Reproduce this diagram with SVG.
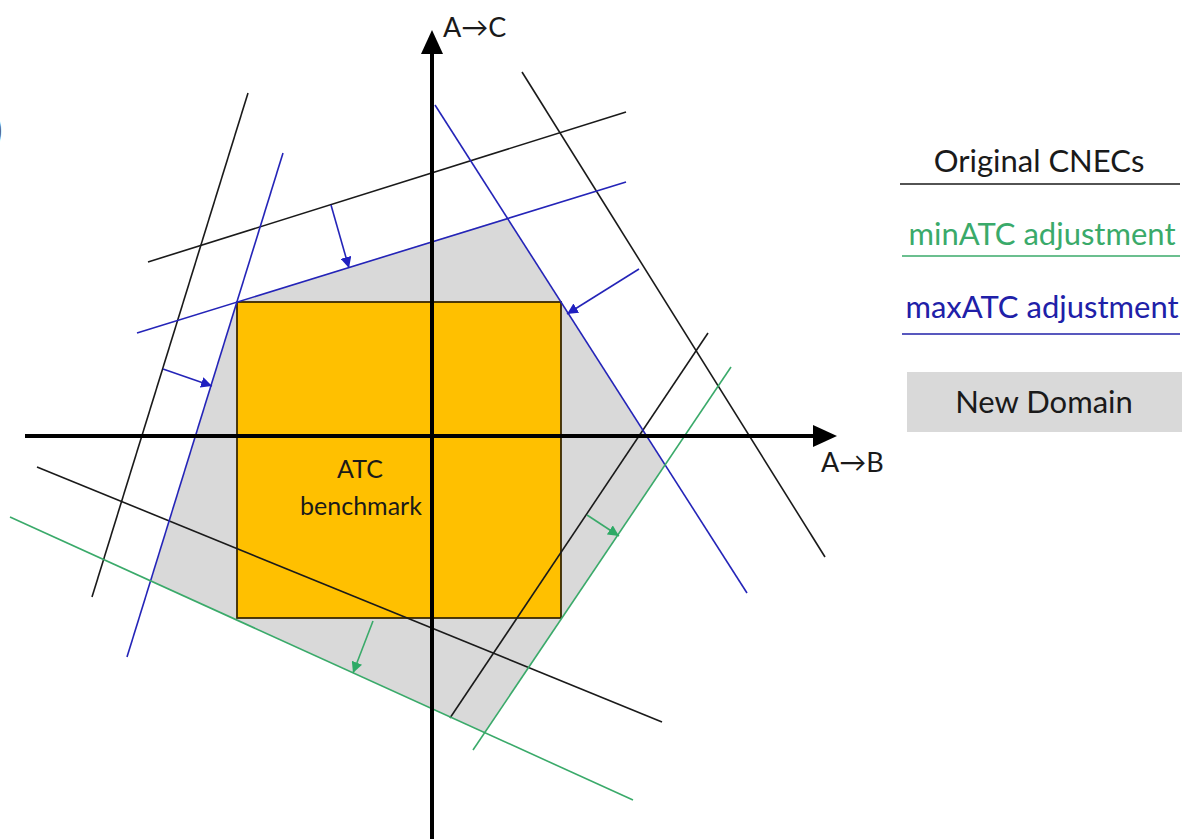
<svg xmlns="http://www.w3.org/2000/svg" width="1186" height="839" viewBox="0 0 1186 839">
<style>
.txt{font-family:Lato,"Liberation Sans",sans-serif;font-size:25px;fill:#1a1a1a}
.leg{font-size:31px}
.cnec{stroke:#1a1a1a;stroke-width:1.6;fill:none}
.max{stroke:#2424b8;stroke-width:1.6;fill:none}
.min{stroke:#3aaa6a;stroke-width:1.6;fill:none}
.axis{stroke:#000;stroke-width:4;fill:none}
</style>
<defs>
<marker id="ab" viewBox="0 0 10 10" refX="10" refY="5" markerWidth="11" markerHeight="11" markerUnits="userSpaceOnUse" orient="auto"><path d="M0,0 L10,5 L0,10 z" fill="#2020c0"/></marker>
<marker id="ag" viewBox="0 0 10 10" refX="10" refY="5" markerWidth="11" markerHeight="11" markerUnits="userSpaceOnUse" orient="auto"><path d="M0,0 L10,5 L0,10 z" fill="#2eaa66"/></marker>
</defs>
<rect width="1186" height="839" fill="#fff"/>
<text x="-8" y="144" style="font-family:Lato,sans-serif;font-size:40px;fill:#555">)</text>
<g id="domain"><polygon points="237,302 507,218 665,465 485,733 151,581" fill="#d9d9d9"/></g>
<g id="benchmark">
<rect x="237" y="302" width="324" height="316" fill="#ffc000" stroke="#3a2800" stroke-width="1.8"/>
<text class="txt" x="360" y="478" text-anchor="middle">ATC</text>
<text class="txt" x="361" y="515" text-anchor="middle">benchmark</text>
</g>
<g id="connectors">
<line class="cnec" x1="248" y1="93" x2="92" y2="597"/>
<line class="cnec" x1="148" y1="262" x2="626" y2="112"/>
<line class="cnec" x1="522" y1="72" x2="825" y2="557"/>
<line class="cnec" x1="37" y1="467" x2="662" y2="722"/>
<line class="cnec" x1="708" y1="333" x2="450" y2="718"/>
<line class="max" x1="283" y1="153" x2="127" y2="657"/>
<line class="max" x1="137" y1="333" x2="626" y2="182"/>
<line class="max" x1="435" y1="105" x2="747" y2="593"/>
<line class="min" x1="10" y1="517" x2="633" y2="800"/>
<line class="min" x1="731" y1="367" x2="473" y2="750"/>
<line class="max" x1="331" y1="205" x2="349" y2="268" marker-end="url(#ab)"/>
<line class="max" x1="163" y1="369" x2="212" y2="386" marker-end="url(#ab)"/>
<line class="max" x1="639" y1="269" x2="567" y2="314" marker-end="url(#ab)"/>
<line class="min" x1="373" y1="621" x2="353" y2="673" marker-end="url(#ag)"/>
<line class="min" x1="587" y1="515" x2="619" y2="536" marker-end="url(#ag)"/>
<line class="axis" x1="432" y1="50" x2="432" y2="839"/>
<line class="axis" x1="25" y1="436" x2="815" y2="436"/>
<polygon points="432,30 443,54 421,54" fill="#000"/>
<polygon points="837,436 813,425 813,447" fill="#000"/>
</g>
<g id="labels">
<text class="txt" x="443" y="37" style="font-size:27px">A→C</text>
<text class="txt" x="821" y="472" style="font-size:27px">A→B</text>
</g>
<g id="legend">
<text class="txt leg" x="1039" y="172" text-anchor="middle">Original CNECs</text>
<line x1="900" y1="184" x2="1180" y2="184" stroke="#1a1a1a" stroke-width="1.6"/>
<text class="txt leg" x="1042" y="245" text-anchor="middle" style="fill:#3aaa6a">minATC adjustment</text>
<line x1="902" y1="256" x2="1180" y2="256" stroke="#3aaa6a" stroke-width="1.6"/>
<text class="txt leg" x="1042" y="318" text-anchor="middle" style="fill:#2020a8">maxATC adjustment</text>
<line x1="902" y1="334" x2="1180" y2="334" stroke="#2020a8" stroke-width="1.6"/>
<rect x="907" y="372" width="275" height="60" fill="#d9d9d9"/>
<text class="txt leg" x="1044" y="413" text-anchor="middle">New Domain</text>
</g>
</svg>
